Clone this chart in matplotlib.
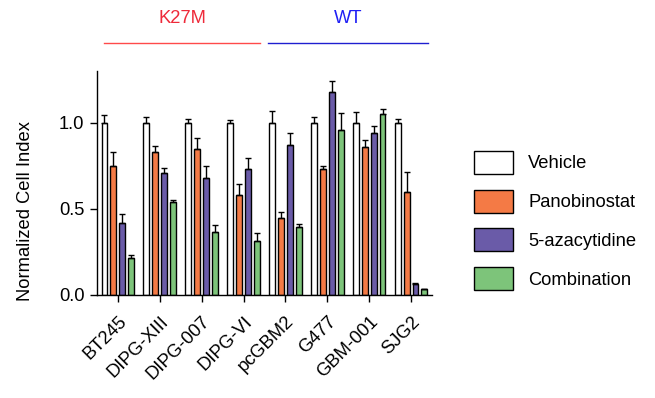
import numpy as np
import matplotlib
matplotlib.use("Agg")
import matplotlib.pyplot as plt

plt.rcParams["font.family"] = ["Liberation Sans", "DejaVu Sans"]

cell_lines = ["BT245", "DIPG-XIII", "DIPG-007", "DIPG-VI",
              "pcGBM2", "G477", "GBM-001", "SJG2"]
treatments = ["Vehicle", "Panobinostat", "5-azacytidine", "Combination"]

vehicle = [1.00, 1.00, 1.00, 1.00, 1.00, 1.00, 1.00, 1.00]
panobinostat = [0.75, 0.83, 0.85, 0.58, 0.45, 0.73, 0.86, 0.60]
azacytidine = [0.42, 0.71, 0.68, 0.73, 0.87, 1.18, 0.94, 0.064]
combination = [0.215, 0.543, 0.364, 0.314, 0.393, 0.957, 1.052, 0.033]

vehicle_err = [0.047, 0.035, 0.023, 0.017, 0.072, 0.037, 0.062, 0.021]
panobinostat_err = [0.08, 0.035, 0.062, 0.064, 0.03, 0.019, 0.039, 0.116]
azacytidine_err = [0.05, 0.03, 0.07, 0.066, 0.072, 0.066, 0.04, 0.005]
combination_err = [0.018, 0.008, 0.04, 0.048, 0.018, 0.10, 0.027, 0.0]

colors = ["#FFFFFF", "#F47A45", "#6A5BA8", "#7DC47A"]
groups = [("K27M", 0, 3, "#EE2A3A", "#FF4A4A"),
          ("WT", 4, 7, "#1F1FF5", "#1F1FD0")]

series = [vehicle, panobinostat, azacytidine, combination]
errors = [vehicle_err, panobinostat_err, azacytidine_err, combination_err]

fs = 13.2
fig = plt.figure(figsize=(6.55, 3.98), dpi=100)
ax = fig.add_axes([0.148, 0.259, 0.5115, 0.5618])

x = np.arange(len(cell_lines))
step, width = 0.213, 0.14
for i, (vals, errs, col, name) in enumerate(zip(series, errors, colors, treatments)):
    pos = x + (i - 1.5) * step
    ax.bar(pos, vals, width=width, color=col, edgecolor="black",
           linewidth=1.0, label=name, zorder=2)
    ax.errorbar(pos, vals, yerr=[np.zeros(len(vals)), errs], fmt="none",
                ecolor="black", elinewidth=1.0, capsize=2.5, capthick=1.0,
                zorder=3)

ax.set_xlim(-0.5, 7.5)
ax.set_ylim(0, 1.3)
ax.set_yticks([0.0, 0.5, 1.0])
ax.set_yticklabels(["0.0", "0.5", "1.0"])
ax.set_xticks(x)
ax.set_xticklabels(cell_lines, rotation=45, ha="right", rotation_mode="anchor")
ax.tick_params(axis="both", labelsize=fs, direction="out", length=5, width=1.0, pad=4)
ax.tick_params(axis="x", pad=8)
ax.set_ylabel("Normalized Cell Index", fontsize=fs, labelpad=18)
ax.yaxis.label.set_y(0.375)
for side in ("top", "right"):
    ax.spines[side].set_visible(False)
for side in ("left", "bottom"):
    ax.spines[side].set_linewidth(1.0)

# genotype brackets above the bars
for label, g0, g1, tcol, lcol in groups:
    x0, x1 = g0 - 0.33, g1 + 0.4
    if g0 > 0:
        x0 = g0 - 0.42
    ax.plot([x0, x1], [1.465, 1.465], color=lcol, lw=1.0, clip_on=False)
    ax.text((x0 + x1) / 2, 1.61, label, color=tcol, fontsize=fs,
            ha="center", va="center")

fig.legend(loc="center left", bbox_to_anchor=(0.724, 0.446), frameon=False,
           fontsize=fs, handlelength=2.13, handleheight=1.556,
           labelspacing=0.86, handletextpad=0.82, borderpad=0, borderaxespad=0)

fig.savefig("out.png", dpi=100)
